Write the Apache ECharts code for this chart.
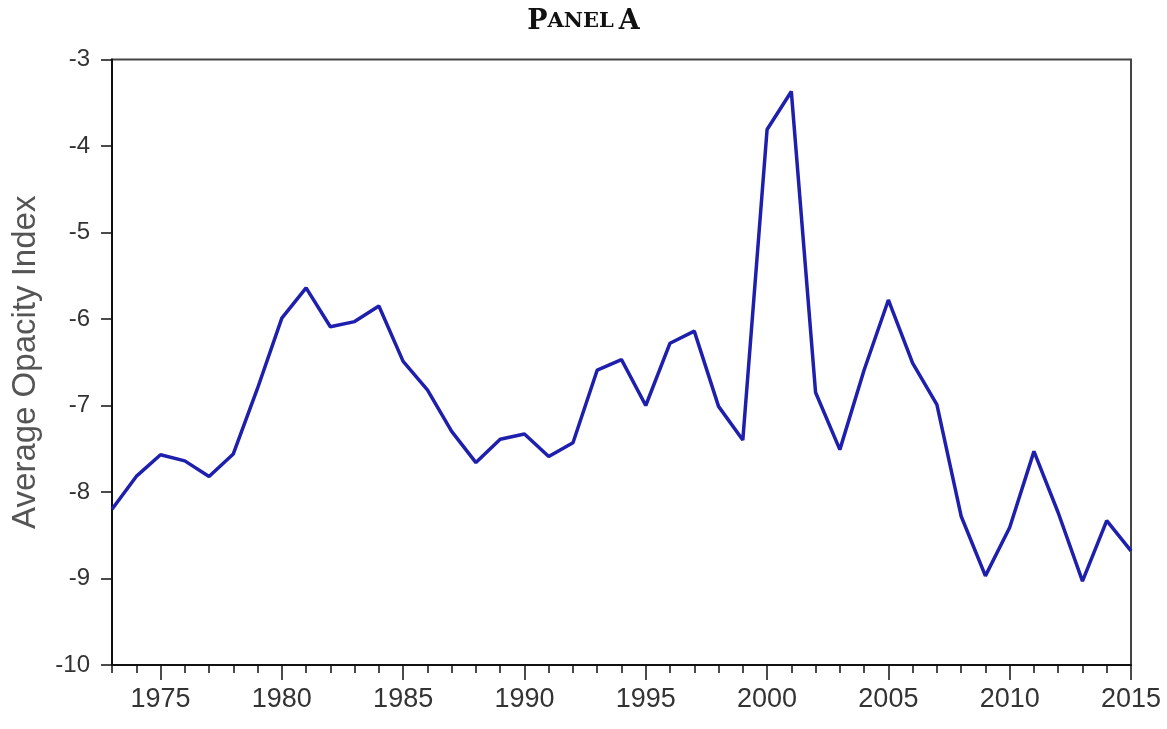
<!DOCTYPE html>
<html>
<head>
<meta charset="utf-8">
<title>Panel A</title>
<script src="https://cdn.jsdelivr.net/npm/echarts@6/dist/echarts.min.js"></script>
<style>
  html, body { margin: 0; padding: 0; background: #fff; }
  #chart { width: 1167px; height: 729px; }
</style>
</head>
<body>
<div id="chart"></div>
<script>
// Yearly average opacity index, 1973–2015
const years = [];
for (let y = 1973; y <= 2015; y++) years.push(String(y));

const opacity = [
  -8.20, -7.82, -7.57, -7.64, -7.82, -7.56, -6.80, -5.99, -5.64, -6.09,
  -6.03, -5.85, -6.49, -6.82, -7.30, -7.66, -7.39, -7.33, -7.59, -7.43,
  -6.59, -6.47, -7.00, -6.28, -6.14, -7.01, -7.40, -3.81, -3.37, -6.85,
  -7.51, -6.59, -5.78, -6.51, -6.99, -8.28, -8.97, -8.41, -7.53, -8.24,
  -9.03, -8.33, -8.68
];

const yTicks = { min: -10, max: -3, step: 1 };

const sansFont = 'Liberation Sans, Arial, sans-serif';
const isMajor = (i, v) => Number(v) % 5 === 0;

const chart = echarts.init(document.getElementById('chart'), null, { renderer: 'canvas' });

chart.setOption({
  animation: false,
  backgroundColor: '#ffffff',
  title: {
    text: '{big|P}{small|ANEL} {big|A}',
    left: 'center',
    top: 3,
    textStyle: {
      rich: {
        big: { fontFamily: 'DejaVu Serif, serif', fontWeight: 'bold', fontSize: 27, color: '#111' },
        small: { fontFamily: 'DejaVu Serif, serif', fontWeight: 'bold', fontSize: 21, color: '#111' }
      }
    }
  },
  grid: {
    left: 112, right: 36, top: 59.5, bottom: 64,
    show: true, borderColor: '#444', borderWidth: 2, backgroundColor: '#fff'
  },
  xAxis: [
    {
      // every year: short ticks
      type: 'category', data: years, boundaryGap: false,
      axisLine: { lineStyle: { color: '#111', width: 2 } },
      axisTick: { show: true, interval: 0, length: 8, lineStyle: { color: '#111', width: 1.5 } },
      axisLabel: { show: false },
      splitLine: { show: false }
    },
    {
      // every fifth year: long ticks and labels
      type: 'category', data: years, boundaryGap: false, position: 'bottom', offset: 0,
      axisLine: { show: false },
      axisTick: { show: true, interval: isMajor, length: 15, lineStyle: { color: '#111', width: 1.5 } },
      axisLabel: {
        interval: isMajor, margin: 21,
        fontFamily: sansFont, fontSize: 27, color: '#333'
      },
      splitLine: { show: false }
    }
  ],
  yAxis: {
    type: 'value',
    min: yTicks.min, max: yTicks.max, interval: yTicks.step,
    name: 'Average Opacity Index',
    nameLocation: 'middle',
    nameGap: 70,
    nameRotate: 90,
    nameTextStyle: { fontFamily: sansFont, fontSize: 33, color: '#555' },
    axisLine: { show: true, lineStyle: { color: '#111', width: 2 } },
    axisTick: { show: true, length: 11, lineStyle: { color: '#111', width: 1.5 } },
    axisLabel: { margin: 22, fontFamily: sansFont, fontSize: 24, color: '#333' },
    splitLine: { show: false }
  },
  series: [{
    type: 'line',
    data: opacity,
    xAxisIndex: 0,
    showSymbol: false,
    lineStyle: { color: '#1f1fae', width: 3.5 },
    itemStyle: { color: '#1f1fae' }
  }]
});
</script>
</body>
</html>
